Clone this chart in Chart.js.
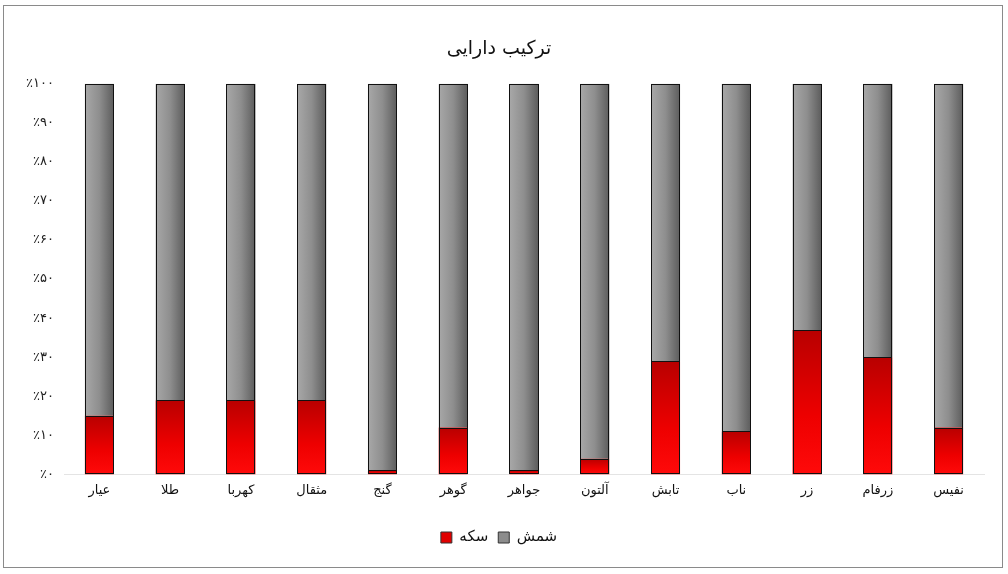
<!DOCTYPE html>
<html>
<head>
<meta charset="utf-8">
<script src="https://cdn.jsdelivr.net/npm/chart.js@4.4.1/dist/chart.umd.min.js"></script>
<style>
  html, body { margin: 0; padding: 0; background: #fff; }
  #wrap { position: absolute; left: 3px; top: 5px; width: 1000px; height: 563px; border: 1px solid #8a8a8a; box-sizing: border-box; }
  #chart { position: absolute; left: 0; top: 0; }
</style>
</head>
<body>
<div id="wrap"><canvas id="chart" width="998" height="561"></canvas></div>
<script>
  // Categories (left to right as in the picture)
  const funds = ['عیار', 'طلا', 'کهربا', 'مثقال', 'گنج', 'گوهر', 'جواهر', 'آلتون', 'تابش', 'ناب', 'زر', 'زرفام', 'نفیس'];
  // Share of coin (سکه) in each fund, percent
  const coinShare = [15, 19, 19, 19, 1, 12, 1, 4, 29, 11, 37, 30, 12];
  // Share of bullion (شمش), the rest of 100
  const bullionShare = [85, 81, 81, 81, 99, 88, 99, 96, 71, 89, 63, 70, 88];
  const yTickLabels = ['٪۰', '٪۱۰', '٪۲۰', '٪۳۰', '٪۴۰', '٪۵۰', '٪۶۰', '٪۷۰', '٪۸۰', '٪۹۰', '٪۱۰۰'];

  const BAR_PCT = 0.41;
  const FONT = "'DejaVu Sans', sans-serif";

  // per-bar horizontal gradient for the grey part
  function greyFill(ctx) {
    const chart = ctx.chart;
    const area = chart.chartArea;
    if (!area || ctx.dataIndex === undefined) return '#8a8a8a';
    const cx = chart.scales.x.getPixelForValue(ctx.dataIndex);
    const w = (area.right - area.left) / funds.length * BAR_PCT;
    const g = chart.ctx.createLinearGradient(cx - w / 2, 0, cx + w / 2, 0);
    g.addColorStop(0, '#a8a8a8');
    g.addColorStop(0.5, '#8e8e8e');
    g.addColorStop(1, '#5c5c5c');
    return g;
  }

  // vertical gradient for the red part, dark at top, bright at bottom
  function redFill(ctx) {
    const chart = ctx.chart;
    const area = chart.chartArea;
    if (!area || ctx.dataIndex === undefined) return '#e00000';
    const top = chart.scales.y.getPixelForValue(coinShare[ctx.dataIndex]);
    const g = chart.ctx.createLinearGradient(0, top, 0, area.bottom);
    g.addColorStop(0, '#b80000');
    g.addColorStop(0.6, '#ee0000');
    g.addColorStop(1, '#ff0a0a');
    return g;
  }

  // crisp black outlines round each stacked bar and at the join
  const outlinePlugin = {
    id: 'outline',
    afterDatasetsDraw(chart) {
      const c = chart.ctx;
      const m0 = chart.getDatasetMeta(0).data;
      const m1 = chart.getDatasetMeta(1).data;
      c.save();
      c.strokeStyle = '#111';
      c.lineWidth = 1;
      m0.forEach((bar, i) => {
        const top = m1[i];
        const x0 = Math.round(bar.x - bar.width / 2) + 0.5;
        const x1 = Math.round(bar.x + bar.width / 2) - 0.5;
        const yb = Math.round(bar.base) - 0.5;
        const yt = Math.round(top.y) + 0.5;
        const yj = Math.round(bar.y) + 0.5;
        c.strokeRect(x0, yt, x1 - x0, yb - yt);
        c.beginPath();
        c.moveTo(x0, yj);
        c.lineTo(x1, yj);
        c.stroke();
      });
      c.restore();
    }
  };

  new Chart(document.getElementById('chart'), {
    type: 'bar',
    data: {
      labels: funds,
      datasets: [
        {
          label: 'سکه',
          data: coinShare,
          backgroundColor: redFill,
          borderWidth: 0,
          categoryPercentage: 1,
          barPercentage: BAR_PCT
        },
        {
          label: 'شمش',
          data: bullionShare,
          backgroundColor: greyFill,
          borderWidth: 0,
          categoryPercentage: 1,
          barPercentage: BAR_PCT
        }
      ]
    },
    options: {
      responsive: false,
      animation: false,
      layout: { padding: { left: 10, right: 18, top: 32, bottom: 12 } },
      plugins: {
        title: {
          display: true,
          text: 'ترکیب دارایی',
          color: '#111',
          font: { family: FONT, size: 19, weight: 'normal' },
          padding: { top: 0, bottom: 23 }
        },
        legend: {
          position: 'bottom',
          labels: {
            color: '#111',
            font: { family: FONT, size: 15 },
            boxWidth: 11,
            boxHeight: 11,
            padding: 10,
            generateLabels(chart) {
              return chart.data.datasets.map((ds, i) => ({
                text: ds.label,
                fillStyle: i === 0 ? '#e00000' : '#8c8c8c',
                strokeStyle: '#333',
                lineWidth: 1,
                datasetIndex: i,
                fontColor: '#111'
              }));
            }
          }
        },
        tooltip: { enabled: false }
      },
      scales: {
        x: {
          stacked: true,
          afterFit(scale) { scale.height += 14; },
          grid: { display: false, drawTicks: false },
          border: { display: true, color: '#e4e4e4' },
          ticks: { color: '#111', font: { family: FONT, size: 13 }, padding: 8, maxRotation: 0 }
        },
        y: {
          stacked: true,
          min: 0,
          max: 100,
          afterFit(scale) { scale.width = 50; },
          grid: { display: false, drawTicks: false },
          border: { display: false },
          ticks: {
            stepSize: 10,
            color: '#222',
            font: { family: FONT, size: 13 },
            padding: 10,
            callback: (v) => yTickLabels[Math.round(v / 10)]
          }
        }
      }
    },
    plugins: [outlinePlugin]
  });
</script>
</body>
</html>
